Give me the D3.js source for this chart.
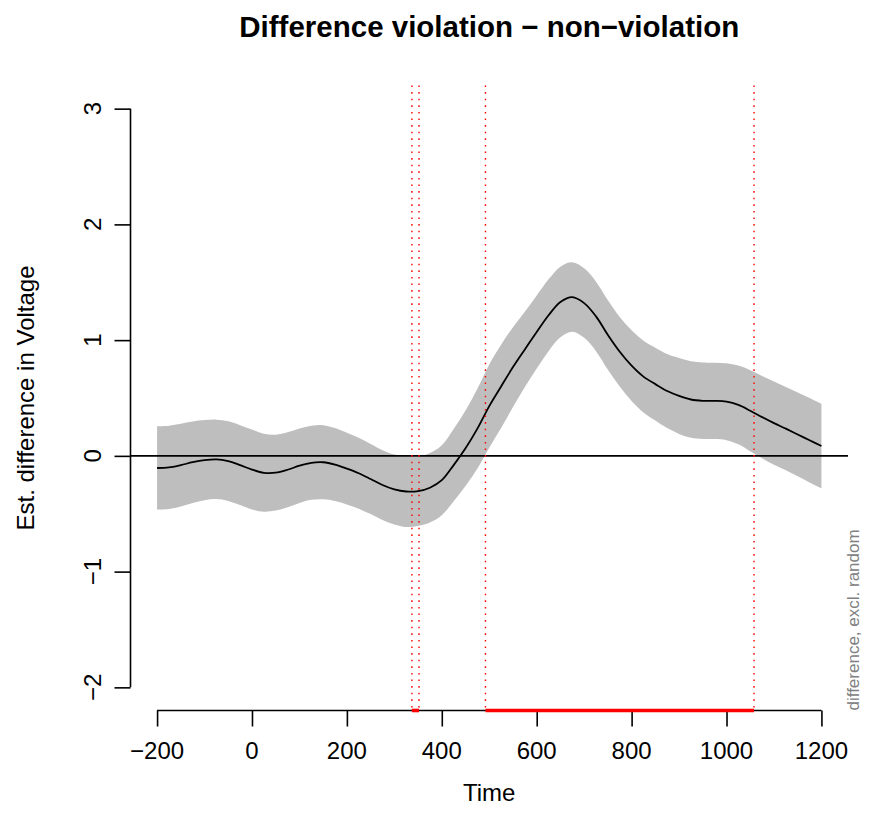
<!DOCTYPE html>
<html>
<head>
<meta charset="utf-8">
<script src="https://cdn.jsdelivr.net/npm/d3@7"></script>
<style>
  body { margin: 0; background: #ffffff; }
  text { font-family: "Liberation Sans", Arial, Helvetica, sans-serif; }
</style>
</head>
<body>
<svg id="chart" width="875" height="831"></svg>
<script>
// Smooth estimate of the violation − non-violation difference (µV) over time (ms)
const times = [-200, -175, -150, -125, -100, -75, -50, -25, 0, 25, 50, 75, 100, 125, 150, 175,
  200, 225, 250, 275, 300, 325, 350, 375, 400, 425, 450, 475, 500, 525, 550, 575, 600, 625,
  650, 675, 700, 725, 750, 775, 800, 825, 850, 875, 900, 925, 950, 975, 1000, 1025, 1050,
  1075, 1100, 1125, 1150, 1175, 1200];

const fit = [-0.105, -0.100, -0.080, -0.055, -0.037, -0.030, -0.045, -0.080, -0.118, -0.146,
  -0.145, -0.120, -0.085, -0.060, -0.055, -0.075, -0.110, -0.150, -0.200, -0.252, -0.290,
  -0.308, -0.305, -0.275, -0.210, -0.080, 0.065, 0.235, 0.430, 0.600, 0.767, 0.920, 1.070,
  1.215, 1.330, 1.372, 1.320, 1.205, 1.045, 0.900, 0.780, 0.685, 0.620, 0.560, 0.518, 0.487,
  0.476, 0.475, 0.468, 0.440, 0.390, 0.335, 0.283, 0.235, 0.185, 0.135, 0.085];

// Half-width of the 95% confidence band around the fit
const ciHalf = [0.360, 0.360, 0.357, 0.352, 0.346, 0.343, 0.344, 0.345, 0.345, 0.337, 0.328,
  0.324, 0.322, 0.320, 0.320, 0.315, 0.310, 0.306, 0.303, 0.301, 0.302, 0.306, 0.300, 0.300,
  0.302, 0.312, 0.326, 0.345, 0.360, 0.360, 0.345, 0.325, 0.315, 0.310, 0.305, 0.300, 0.300,
  0.300, 0.300, 0.300, 0.305, 0.310, 0.315, 0.320, 0.328, 0.330, 0.330, 0.330, 0.332, 0.340,
  0.350, 0.355, 0.360, 0.360, 0.362, 0.365, 0.365];

// Windows in which the band excludes zero
const sigStart = [337, 492];
const sigEnd = [352, 1058];

const xTicks = [-200, 0, 200, 400, 600, 800, 1000, 1200];
const yTicks = [-2, -1, 0, 1, 2, 3];

const chartTitle = "Difference violation \u2212 non\u2212violation";
const xLabel = "Time";
const yLabel = "Est. difference in Voltage";
const sideNote = "difference, excl. random";

// ---- layout ----
const W = 875, H = 831;
const plot = { left: 130.5, right: 848, top: 85.5, bottom: 710.5 };
const fmt = d => String(d).replace("-", "\u2212");

const xMin = -200, xMax = 1200, yMin = -2, yMax = 3;
const xPad = (xMax - xMin) * 0.04, yPad = (yMax - yMin) * 0.04;

const x = d3.scaleLinear().domain([xMin - xPad, xMax + xPad]).range([plot.left, plot.right]);
const y = d3.scaleLinear().domain([yMin - yPad, yMax + yPad]).range([plot.bottom, plot.top]);

const svg = d3.select("#chart");
svg.append("rect").attr("width", W).attr("height", H).attr("fill", "#ffffff");

const rows = times.map((t, i) => ({ t, fit: fit[i], lo: fit[i] - ciHalf[i], hi: fit[i] + ciHalf[i] }));
const curve = d3.curveCatmullRom.alpha(0.5);

// confidence band
svg.append("path")
  .datum(rows)
  .attr("fill", "#bebebe")
  .attr("stroke", "none")
  .attr("d", d3.area().x(d => x(d.t)).y0(d => y(d.lo)).y1(d => y(d.hi)).curve(curve));

// zero reference line across the plot region
svg.append("line")
  .attr("x1", plot.left).attr("x2", plot.right)
  .attr("y1", y(0)).attr("y2", y(0))
  .attr("stroke", "#000").attr("stroke-width", 1.6);

// fitted difference curve
svg.append("path")
  .datum(rows)
  .attr("fill", "none")
  .attr("stroke", "#000")
  .attr("stroke-width", 1.8)
  .attr("d", d3.line().x(d => x(d.t)).y(d => y(d.fit)).curve(curve));

// dotted markers at the edges of the significant windows
const edges = sigStart.concat(sigEnd);
svg.selectAll("line.edge")
  .data(edges)
  .join("line")
  .attr("class", "edge")
  .attr("x1", d => x(d)).attr("x2", d => x(d))
  .attr("y1", plot.top).attr("y2", plot.bottom)
  .attr("stroke", "#ff0000")
  .attr("stroke-width", 1.4)
  .attr("stroke-dasharray", "1.6,5");

// x axis
const xAxis = svg.append("g")
  .attr("transform", `translate(0,${plot.bottom})`)
  .call(d3.axisBottom(x).tickValues(xTicks).tickSize(16).tickSizeOuter(0).tickFormat(""));
xAxis.select(".domain").remove();
xAxis.selectAll(".tick line").attr("stroke", "#000").attr("stroke-width", 1.6);
xAxis.append("line")
  .attr("x1", x(xMin)).attr("x2", x(xMax))
  .attr("stroke", "#000").attr("stroke-width", 1.6);

svg.append("g").selectAll("text")
  .data(xTicks)
  .join("text")
  .attr("x", d => x(d))
  .attr("y", 759)
  .attr("text-anchor", "middle")
  .attr("font-size", 24)
  .attr("fill", "#000")
  .text(fmt);

// y axis
const yAxis = svg.append("g")
  .attr("transform", `translate(${plot.left},0)`)
  .call(d3.axisLeft(y).tickValues(yTicks).tickSize(16).tickSizeOuter(0).tickFormat(""));
yAxis.select(".domain").remove();
yAxis.selectAll(".tick line").attr("stroke", "#000").attr("stroke-width", 1.6);
yAxis.append("line")
  .attr("y1", y(yMin)).attr("y2", y(yMax))
  .attr("stroke", "#000").attr("stroke-width", 1.6);

svg.append("g").selectAll("text")
  .data(yTicks)
  .join("text")
  .attr("transform", d => `translate(100.5,${y(d)}) rotate(-90)`)
  .attr("text-anchor", "middle")
  .attr("font-size", 24)
  .attr("fill", "#000")
  .text(fmt);

// significant windows marked on the time axis
svg.selectAll("line.sig")
  .data(sigStart.map((s, i) => [s, sigEnd[i]]))
  .join("line")
  .attr("class", "sig")
  .attr("x1", d => x(d[0])).attr("x2", d => x(d[1]))
  .attr("y1", plot.bottom).attr("y2", plot.bottom)
  .attr("stroke", "#ff0000")
  .attr("stroke-width", 3.6);

// titles
svg.append("text")
  .attr("x", (plot.left + plot.right) / 2)
  .attr("y", 37)
  .attr("text-anchor", "middle")
  .attr("font-size", 29.5)
  .attr("font-weight", "bold")
  .attr("fill", "#000")
  .text(chartTitle);

svg.append("text")
  .attr("x", (plot.left + plot.right) / 2)
  .attr("y", 801)
  .attr("text-anchor", "middle")
  .attr("font-size", 24)
  .attr("fill", "#000")
  .text(xLabel);

svg.append("text")
  .attr("transform", `translate(34,${(plot.top + plot.bottom) / 2}) rotate(-90)`)
  .attr("text-anchor", "middle")
  .attr("font-size", 24)
  .attr("fill", "#000")
  .text(yLabel);

svg.append("text")
  .attr("transform", `translate(859,${plot.bottom}) rotate(-90)`)
  .attr("text-anchor", "start")
  .attr("font-size", 17)
  .attr("fill", "#808080")
  .text(sideNote);
</script>
</body>
</html>
